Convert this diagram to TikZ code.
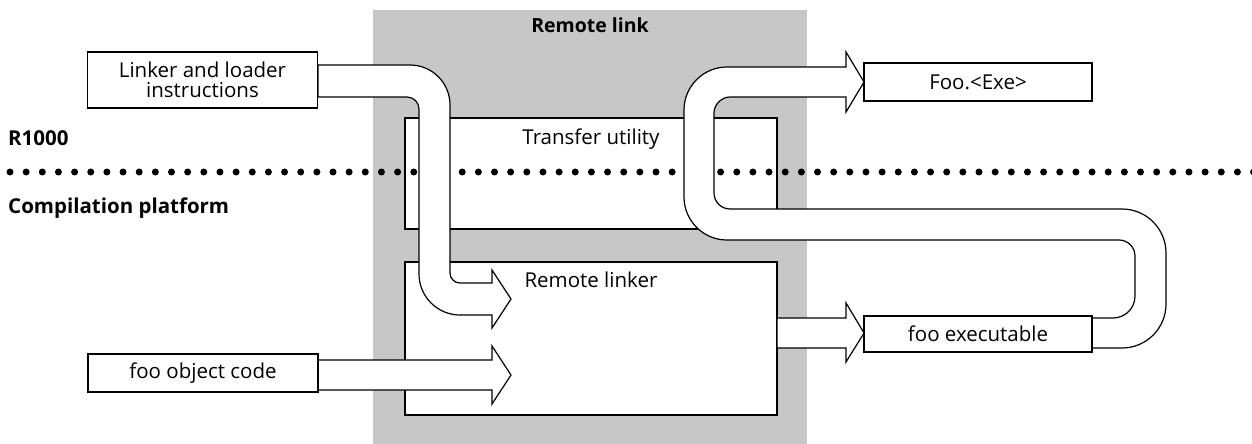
\documentclass[tikz,border=0pt]{standalone}
\usepackage{fontspec}
\setmainfont{Open Sans}
\begin{document}
\begin{tikzpicture}[x=1pt,y=-1pt,
  box/.style={draw, line width=1.2pt, fill=white, inner sep=0pt, align=center, font=\fontsize{20.5}{20}\selectfont},
  txt/.style={inner sep=0pt, anchor=base, font=\fontsize{20.5}{20}\selectfont},
  lbl/.style={inner sep=0pt, anchor=base west, font=\fontsize{20.5}{20}\selectfont\bfseries},
  broad/.style={draw, line width=1.2pt, fill=white, line join=miter},
  shadearea/.style={fill=black!22},
  dotmark/.style={fill=black}]
\useasboundingbox (0,0) rectangle (1252,444);

% remote link area
\fill[shadearea] (373,10) rectangle (807,444);
\node[txt, font=\fontsize{19.5}{20}\selectfont\bfseries] (rltitle) at (590,33) {Remote link};

% transfer utility and remote linker
\node[box, minimum width=372pt, minimum height=111pt] (tu) at (591,173.5) {};
\node[txt] (tutext) at (591,144) {Transfer utility};
\node[box, minimum width=372pt, minimum height=153pt] (rlk) at (591,338.5) {};
\node[txt] (rlktext) at (591,287) {Remote linker};

% dotted boundary
\foreach \i in {0,...,77} \fill[dotmark] (10+16.15*\i,172) circle[radius=3.5pt];

% broad arrow: linker instructions -> remote linker
\draw[broad] (318,65) -- (410,65) .. controls (432.1,65) and (450,82.9) .. (450,105)
  -- (450,273) .. controls (450,278.5) and (454.5,283) .. (460,283)
  -- (492,283) -- (492,270) -- (511,299) -- (492,328) -- (492,315) -- (460,315)
  .. controls (437.4,315) and (419,296.6) .. (419,274)
  -- (419,109) .. controls (419,102.4) and (413.6,97) .. (407,97)
  -- (318,97) -- cycle;

% broad arrow: foo object code -> remote linker
\draw[broad] (318,360) -- (492,360) -- (492,346) -- (511,375) -- (492,404) -- (492,390) -- (318,390) -- cycle;

% broad arrow: remote linker -> foo executable
\draw[broad] (777,318) -- (846,318) -- (846,303) -- (864,333) -- (846,362) -- (846,348) -- (777,348) -- cycle;

% broad arrow: foo executable -> Foo.<Exe>
\draw[broad] (1092,318) -- (1113,318) .. controls (1125.2,318) and (1135,308.2) .. (1135,296)
  -- (1135,256) .. controls (1135,247.2) and (1127.8,240) .. (1119,240)
  -- (727,240) .. controls (703.3,240) and (684,220.7) .. (684,197)
  -- (684,110) .. controls (684,86.3) and (703.3,67) .. (727,67)
  -- (846,67) -- (846,52) -- (864,82) -- (846,112) -- (846,97) -- (730,97)
  .. controls (721.2,97) and (714,104.8) .. (714,113)
  -- (714,193) .. controls (714,201.8) and (721.2,209) .. (730,209)
  -- (1122,209) .. controls (1146.3,209) and (1166,228.7) .. (1166,253)
  -- (1166,304) .. controls (1166,328.3) and (1146.3,348) .. (1122,348)
  -- (1092,348) -- cycle;

% outer boxes
\node[box, minimum width=230pt, minimum height=56pt] (lli) at (202.5,80) {Linker and loader\\instructions};
\node[box, minimum width=230pt, minimum height=38pt] (foc) at (203,373) {foo object code};
\node[box, minimum width=228pt, minimum height=38pt] (fexe) at (978,82) {Foo.<Exe>};
\node[box, minimum width=228pt, minimum height=36pt] (fex) at (978,334) {foo executable};

% platform labels
\node[lbl] (r1000) at (8,145) {R1000};
\node[lbl] (cplat) at (8,213) {Compilation platform};
\end{tikzpicture}
\end{document}
